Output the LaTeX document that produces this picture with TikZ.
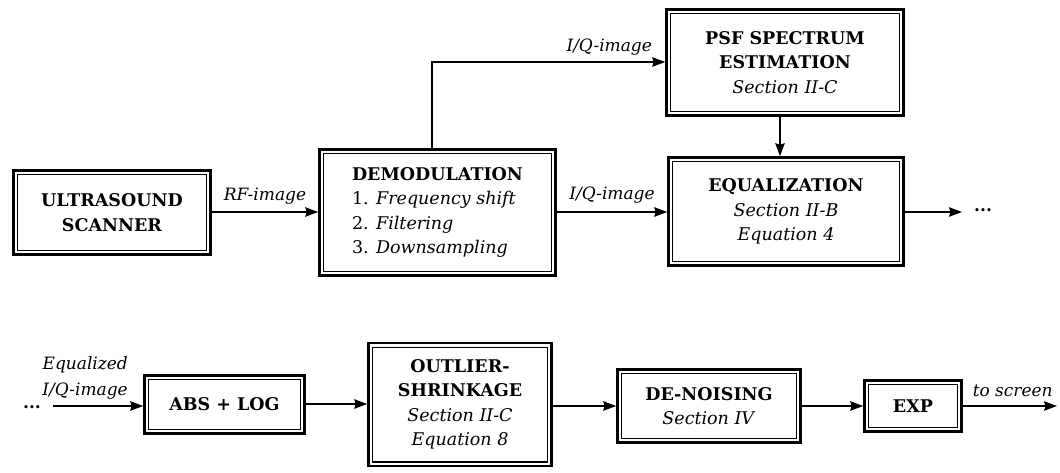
\documentclass[tikz,border=0pt]{standalone}
\usepackage{fontspec}
\setmainfont{DejaVu Serif}
\usetikzlibrary{arrows.meta,positioning}
\tikzset{
  dbox/.style={draw, line width=2.6pt, align=center, inner sep=4pt, font=\fontsize{17.5}{24.5}\selectfont},
  innerline/.style={line width=1.2pt},
  conn/.style={line width=1.3pt, -{Stealth[length=13pt,width=9.5pt,inset=1.5pt]}},
  lab/.style={font=\fontsize{17}{24}\selectfont\itshape, inner sep=1pt},
  dots/.style={font=\fontsize{17}{24}\selectfont\bfseries, inner sep=0pt}
}
\newcommand{\bt}[1]{\textbf{#1}}
\begin{document}
\begin{tikzpicture}[x=1pt,y=-1pt]
\useasboundingbox (0,0) rectangle (1060,473);
% top row
\node[dbox, minimum width=197pt, minimum height=84pt] (us) at (112,212.5) {\bt{ULTRASOUND}\\\bt{SCANNER}};
\node[dbox, minimum width=236pt, minimum height=126pt, align=left] (demod) at (437.5,212.5)
  {\bt{DEMODULATION}\\1. \textit{Frequency shift}\\2. \textit{Filtering}\\3. \textit{Downsampling}};
\node[dbox, minimum width=235pt, minimum height=108pt] (eq) at (786,211.5)
  {\bt{EQUALIZATION}\\\textit{Section II-B}\\\textit{Equation 4}};
\node[dbox, minimum width=237pt, minimum height=106pt] (psf) at (785,62.5)
  {\bt{PSF SPECTRUM}\\\bt{ESTIMATION}\\\textit{Section II-C}};
% bottom row
\node[dbox, minimum width=160pt, minimum height=58pt] (abs) at (224.5,404.5) {\bt{ABS + LOG}};
\node[dbox, minimum width=183pt, minimum height=123pt] (out) at (460,404.5)
  {\bt{OUTLIER-}\\\bt{SHRINKAGE}\\\textit{Section II-C}\\\textit{Equation 8}};
\node[dbox, minimum width=183pt, minimum height=73pt] (den) at (709,406)
  {\bt{DE-NOISING}\\\textit{Section IV}};
\node[dbox, minimum width=97pt, minimum height=51pt] (exp) at (913,406) {\bt{EXP}};
% inner lines of the double borders
\foreach \n in {us,demod,eq,psf,abs,out,den,exp}
  \draw[innerline] ([shift={(5.4pt,5.4pt)}]\n.south west) rectangle ([shift={(-5.4pt,-5.4pt)}]\n.north east);
% connectors top
\draw[conn] (us.east |- 0,212) -- node[lab, above=6pt] {RF-image} (demod.west |- 0,212);
\draw[conn] (demod.east |- 0,212) -- node[lab, above=7pt, pos=0.5] {I/Q-image} (eq.west |- 0,212);
\coordinate (split) at (432,62);
\draw[conn] (demod.north -| split) -- (split) -- node[lab, above=5pt, pos=0.76] {I/Q-image} (psf.west |- split);
\draw[conn] (psf.south -| 780,0) -- (eq.north -| 780,0);
\coordinate (eqout) at (962,212);
\draw[conn] (eq.east |- eqout) -- (eqout);
\node[dots, anchor=west] (dotsA) at (974,210) {...};
% connectors bottom
\node[dots] (dotsB) at (32,407) {...};
\coordinate (absin) at (53,406);
\draw[conn] (absin) -- (abs.west |- absin);
\node[lab, align=right, anchor=south east, font=\fontsize{17}{26}\selectfont\itshape] (eqlab) at (129,400) {Equalized\\I/Q-image};
\draw[conn] (abs.east |- 0,404) -- (out.west |- 0,404);
\draw[conn] (out.east |- 0,406) -- (den.west |- 0,406);
\draw[conn] (den.east |- 0,406) -- (exp.west |- 0,406);
\coordinate (screen) at (1057,406);
\draw[conn] (exp.east |- screen) -- node[lab, above=8pt, pos=0.53] {to screen} (screen);
\end{tikzpicture}
\end{document}
